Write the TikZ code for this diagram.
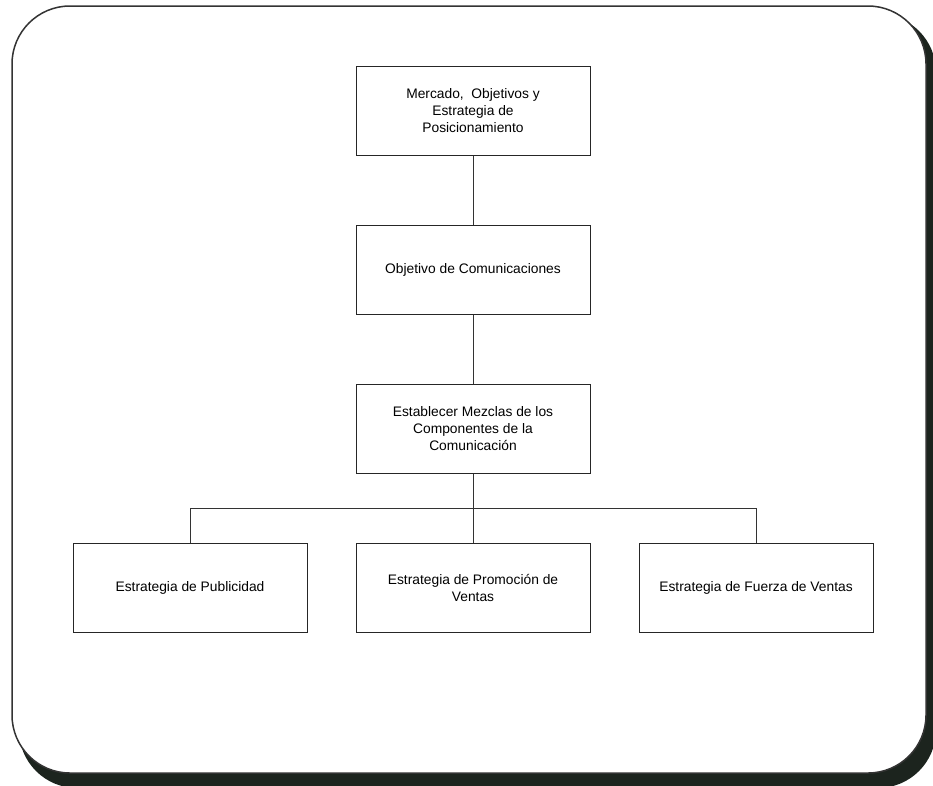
\documentclass[tikz,border=0pt]{standalone}
\usepackage{fontspec}
\setmainfont{Liberation Sans}
\usepackage{tikz}
\usetikzlibrary{calc,positioning}
\definecolor{sombra}{RGB}{28,36,30}
\tikzstyle{caja} = [draw=black!85, line width=1pt, fill=white, minimum width=234pt, minimum height=89pt, align=center, font=\fontsize{13.8}{17}\selectfont]
\tikzstyle{linea} = [draw=black!80, line width=1pt]

\begin{document}
\begin{tikzpicture}[x=1pt,y=-1pt]
  \useasboundingbox (0,0) rectangle (933,785);
  % marco con sombra
  \fill[sombra, rounded corners=58pt] (19,14) rectangle (936,788);
  \draw[draw=black!80, line width=1.5pt, fill=white, rounded corners=58pt] (12,6) rectangle (926,773);

  \node[caja] (mercado) at (473,110.5) {Mercado,~ Objetivos y\\Estrategia de\\Posicionamiento};
  \node[caja, below=69pt of mercado] (objetivo) {Objetivo de Comunicaciones};
  \node[caja, below=69pt of objetivo] (mezcla) {Establecer Mezclas de los\\Componentes de la\\Comunicación};
  \node[caja, below=69pt of mezcla] (promocion) {Estrategia de Promoción de\\Ventas};
  \node[caja, left=48pt of promocion] (publicidad) {Estrategia de Publicidad};
  \node[caja, right=48pt of promocion] (fuerza) {Estrategia de Fuerza de Ventas};

  \draw[linea] (mercado) -- (objetivo);
  \draw[linea] (objetivo) -- (mezcla);
  \draw[linea] (mezcla.south) -- ++(0,-35pt) coordinate (bus);
  \draw[linea] (bus) -- (promocion);
  \draw[linea] (publicidad.north) |- (bus) -| (fuerza.north);
\end{tikzpicture}
\end{document}
